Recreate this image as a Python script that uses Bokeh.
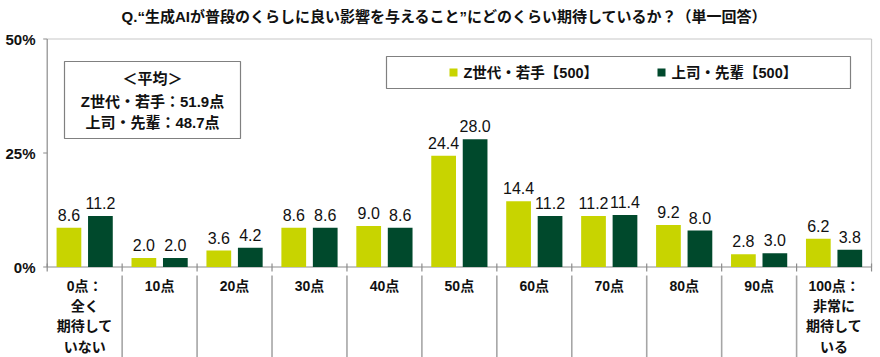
from bokeh.plotting import figure
from bokeh.models import Range1d
from bokeh.core.properties import value
from bokeh.embed import file_html
from bokeh.resources import INLINE
import numpy as np

# ---- data ----
categories = ["0点：\n全く\n期待して\nいない", "10点", "20点", "30点", "40点", "50点",
              "60点", "70点", "80点", "90点", "100点：\n非常に\n期待して\nいる"]
series_names = ["Z世代・若手【500】", "上司・先輩【500】"]
z_gen = [8.6, 2.0, 3.6, 8.6, 9.0, 24.4, 14.4, 11.2, 9.2, 2.8, 6.2]
boss = [11.2, 2.0, 4.2, 8.6, 8.6, 28.0, 11.2, 11.4, 8.0, 3.0, 3.8]
y_ticks = [0, 25, 50]
y_tick_labels = ["0%", "25%", "50%"]
title_text = "Q.“生成AIが普段のくらしに良い影響を与えること”にどのくらい期待しているか？（単一回答）"
avg_lines = ["＜平均＞", "Z世代・若手：51.9点", "上司・先輩：48.7点"]

# ---- layout helpers (picture px -> data) ----
FIG_W, FIG_H = 880, 357
X0, SX = 46.7, 74.94
Y0, SY = 266.5, 4.56
def dx(wx):
    return (wx - X0) / SX
def dy(wy):
    return (Y0 - wy) / SY

LIGHT = "#c8d400"
DARK = "#00492c"
MIX = value("Liberation Sans, Noto Sans CJK JP")

p = figure(width=FIG_W, height=FIG_H, output_backend="svg", toolbar_location=None,
           x_range=Range1d(dx(0), dx(FIG_W)), y_range=Range1d(dy(FIG_H), dy(0)),
           min_border=0, outline_line_color=None)
p.xaxis.visible = False
p.yaxis.visible = False
p.xgrid.visible = False
p.ygrid.visible = False
p.background_fill_color = "white"

n = len(categories)
centers = np.arange(n) + 0.5
off, bw = 0.21, 0.33

# frame: top and right light gray
p.segment(x0=[0, n], y0=[50, 0], x1=[n, n], y1=[50, 50], line_color="#c8c8c8", line_width=1.2)
# axes
p.segment(x0=[0, 0], y0=[0, 0], x1=[n, 0], y1=[0, 50], line_color="#8c8c8c", line_width=1.2)
# y ticks
tick = 4 / SX
p.segment(x0=[-tick] * len(y_ticks), y0=y_ticks, x1=[0] * len(y_ticks), y1=y_ticks,
          line_color="#8c8c8c", line_width=1.2)
# x boundary ticks
b = np.arange(n + 1)
p.segment(x0=b, y0=[dy(263)] * (n + 1), x1=b, y1=[dy(271)] * (n + 1), line_color="#8c8c8c", line_width=1.2)
# separators below axis (internal)
bi = np.arange(1, n)
p.segment(x0=bi, y0=[dy(275)] * (n - 1), x1=bi, y1=[dy(360)] * (n - 1), line_color="#a6a6a6", line_width=1.6)

# bars
p.vbar(x=centers - off, top=z_gen, bottom=0, width=bw, fill_color=LIGHT, line_color=None)
p.vbar(x=centers + off, top=boss, bottom=0, width=bw, fill_color=DARK, line_color=None)

# value labels
lab_kw = dict(text_align="center", text_baseline="bottom", text_font=value("Liberation Sans"),
              text_font_size="16px", text_color="#111111", y_offset=-7)
p.text(x=centers - off, y=z_gen, text=[f"{v:.1f}" for v in z_gen], **lab_kw)
p.text(x=centers + off, y=boss, text=[f"{v:.1f}" for v in boss], **lab_kw)

# y tick labels
p.text(x=[dx(35)] * len(y_ticks), y=y_ticks, text=y_tick_labels, text_align="right",
       text_baseline="middle", text_font=value("Liberation Sans"), text_font_style="bold",
       text_font_size="15px", text_color="#111111")

# category labels
p.text(x=centers, y=[dy(277)] * n, text=categories, text_align="center", text_baseline="top",
       text_font=MIX, text_font_style="bold", text_font_size="14px", text_line_height=1.28,
       text_color="#111111")

# title
p.text(x=[dx(444)], y=[dy(16)], text=[title_text], text_align="center", text_baseline="middle",
       text_font=MIX, text_font_style="bold", text_font_size="15px", text_color="#111111")

# average box
p.quad(left=[dx(64)], right=[dx(240)], top=[dy(61)], bottom=[dy(138)], fill_color="white",
       line_color="#808080", line_width=1.2)
p.text(x=[dx(152)] * 3, y=[dy(78), dy(101), dy(122)], text=avg_lines, text_align="center",
       text_baseline="middle", text_font=MIX, text_font_style="bold", text_font_size="15px",
       text_color="#111111")

# legend box
p.quad(left=[dx(386)], right=[dx(850)], top=[dy(56)], bottom=[dy(88)], fill_color="white",
       line_color="#808080", line_width=1.2)
p.scatter(x=[dx(453), dx(661)], y=[dy(72)] * 2, marker="square", size=8,
          fill_color=[LIGHT, DARK], line_color=None)
p.text(x=[dx(463), dx(671)], y=[dy(72)] * 2, text=series_names, text_align="left",
       text_baseline="middle", text_font=MIX, text_font_style="bold", text_font_size="14.5px",
       text_color="#111111")

open("out.html", "w").write(file_html(p, INLINE))
